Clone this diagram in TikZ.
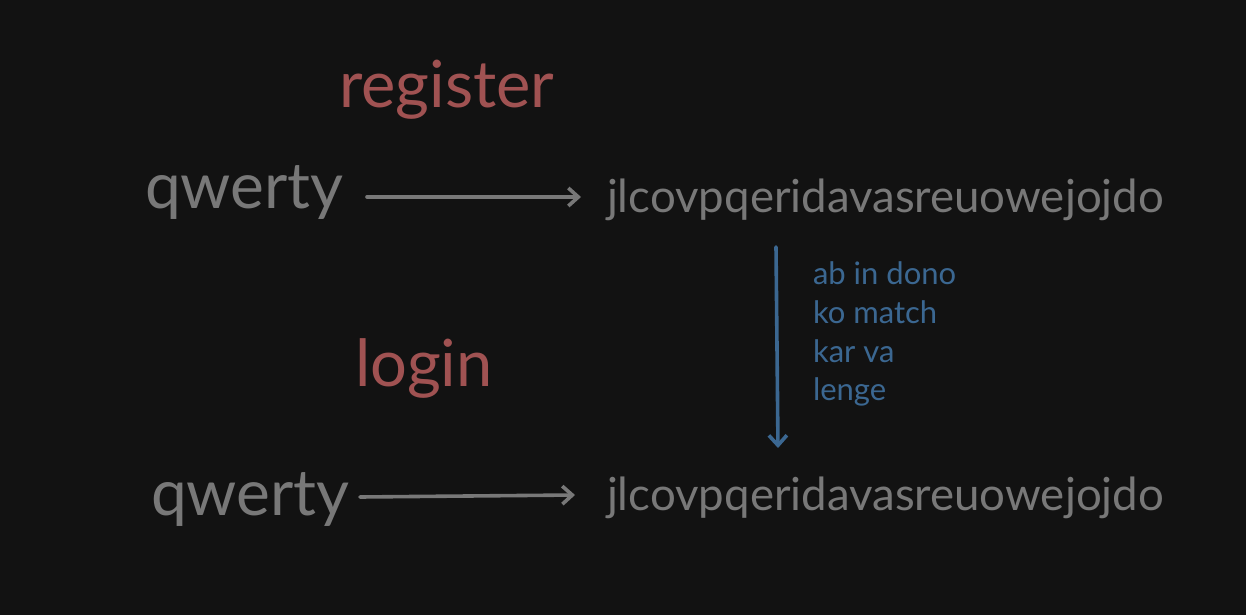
\documentclass[tikz,border=0pt]{standalone}
\usepackage{fontspec}
\setmainfont{Lato}
\usetikzlibrary{arrows.meta}
\definecolor{bg}{HTML}{121212}
\definecolor{txtgray}{HTML}{787878}
\definecolor{txtred}{HTML}{A05252}
\definecolor{txtblue}{HTML}{3B6791}
\tikzset{
  lbl/.style={anchor=base west, inner sep=0pt, outer sep=0pt},
  title/.style={lbl, text=txtred, font=\fontsize{65}{78}\selectfont},
  word/.style={lbl, text=txtgray, font=\fontsize{64}{76}\selectfont},
  hash/.style={lbl, text=txtgray, font=\fontsize{45.6}{54}\selectfont},
  note/.style={lbl, text=txtblue, font=\fontsize{31}{39}\selectfont},
  grayarrow/.style={draw=txtgray, line width=3.6pt, line cap=round, -{Straight Barb[length=10pt,width=18pt,line width=3.6pt]}},
  bluearrow/.style={draw=txtblue, line width=3.6pt, line cap=round, -{Straight Barb[length=10pt,width=18pt,line width=3.6pt]}}
}
\begin{document}
\begin{tikzpicture}[x=1pt,y=-1pt]
\fill[bg] (0,0) rectangle (1246,615);
\useasboundingbox (0,0) rectangle (1246,615);
\node[title] (reg) at (339,108) {register};
\node[word] (q1) at (145,208) {qwerty};
\node[hash] (h1) at (607,212) {jlcovpqeridavasreuowejojdo};
\node[title] (log) at (355,386) {login};
\node[word] (q2) at (151,515) {qwerty};
\node[hash] (h2) at (607,510) {jlcovpqeridavasreuowejojdo};
\node[note] (n1) at (813,284) {ab in dono};
\node[note] (n2) at (813,323) {ko match};
\node[note] (n3) at (813,362) {kar va};
\node[note] (n4) at (813,400) {lenge};
\coordinate (a1s) at (367,197);
\coordinate (a1e) at (581,197);
\coordinate (a2s) at (360,497);
\coordinate (a2e) at (575,495);
\coordinate (a3s) at (776,247);
\coordinate (a3e) at (778,448);
\draw[grayarrow] (a1s) -- (a1e);
\draw[grayarrow] (a2s) -- (a2e);
\draw[bluearrow] (a3s) -- (a3e);
\end{tikzpicture}
\end{document}
